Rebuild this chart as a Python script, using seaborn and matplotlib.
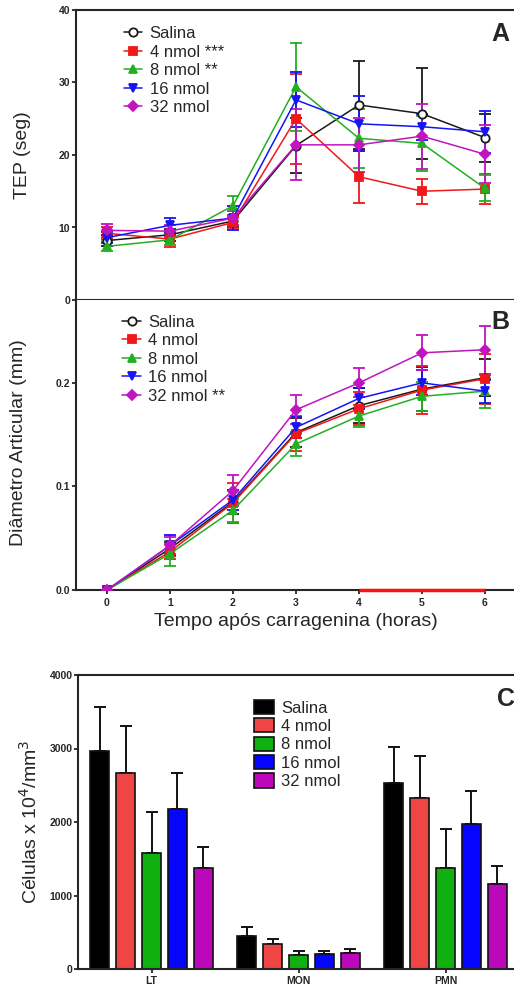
import numpy as np
import pandas as pd
import matplotlib
matplotlib.use("Agg")
import matplotlib.pyplot as plt
import seaborn as sns

# Data
horas = [0, 1, 2, 3, 4, 5, 6]
grupos = ["Salina", "4 nmol", "8 nmol", "16 nmol", "32 nmol"]

# Panel A - TEP (seg), mean and SEM
tep_media = {
    "Salina":  [8.2, 9.0, 10.9, 21.3, 26.9, 25.7, 22.4],
    "4 nmol":  [9.2, 8.4, 10.7, 25.0, 17.0, 15.0, 15.3],
    "8 nmol":  [7.4, 8.3, 13.0, 29.4, 22.3, 21.6, 15.4],
    "16 nmol": [8.6, 10.3, 11.3, 27.6, 24.3, 23.9, 23.2],
    "32 nmol": [9.6, 9.5, 11.3, 21.4, 21.4, 22.6, 20.1],
}
tep_epm = {
    "Salina":  [0.8, 0.8, 0.8, 3.8, 6.1, 6.3, 3.3],
    "4 nmol":  [0.8, 1.1, 0.8, 6.2, 3.6, 1.7, 2.1],
    "8 nmol":  [0.7, 0.7, 1.3, 6.1, 4.1, 3.8, 1.8],
    "16 nmol": [0.8, 1.0, 1.6, 3.8, 3.8, 1.8, 2.9],
    "32 nmol": [0.9, 0.8, 1.0, 4.9, 3.7, 4.5, 4.0],
}
labels_a = ["Salina", "4 nmol ***", "8 nmol **", "16 nmol", "32 nmol"]

# Panel B - Diametro articular (mm), mean and SEM
diam_media = {
    "Salina":  [0, 0.040, 0.085, 0.152, 0.178, 0.194, 0.205],
    "4 nmol":  [0, 0.037, 0.084, 0.151, 0.175, 0.193, 0.204],
    "8 nmol":  [0, 0.035, 0.077, 0.141, 0.168, 0.187, 0.192],
    "16 nmol": [0, 0.043, 0.087, 0.157, 0.185, 0.200, 0.192],
    "32 nmol": [0, 0.043, 0.096, 0.174, 0.200, 0.229, 0.232],
}
diam_epm = {
    "Salina":  [0, 0.006, 0.012, 0.014, 0.017, 0.021, 0.018],
    "4 nmol":  [0, 0.007, 0.019, 0.017, 0.016, 0.023, 0.024],
    "8 nmol":  [0, 0.012, 0.011, 0.012, 0.011, 0.014, 0.016],
    "16 nmol": [0, 0.010, 0.010, 0.010, 0.010, 0.012, 0.011],
    "32 nmol": [0, 0.008, 0.015, 0.014, 0.014, 0.017, 0.023],
}
labels_b = ["Salina", "4 nmol", "8 nmol", "16 nmol", "32 nmol **"]
faixa_sig_b = [4, 6]

# Panel C - cell counts
celulas = ["LT", "MON", "PMN"]
cel_media = {
    "Salina":  [2970, 454, 2535],
    "4 nmol":  [2662, 340, 2331],
    "8 nmol":  [1574, 195, 1379],
    "16 nmol": [2177, 204, 1973],
    "32 nmol": [1370, 213, 1152],
}
cel_epm = {
    "Salina":  [600, 122, 481],
    "4 nmol":  [644, 68, 567],
    "8 nmol":  [567, 54, 521],
    "16 nmol": [485, 41, 449],
    "32 nmol": [285, 55, 254],
}

cores_linha = {"Salina": "#1a1a1a", "4 nmol": "#f01818", "8 nmol": "#22b022",
               "16 nmol": "#1414f5", "32 nmol": "#c014c0"}
cores_barra = {"Salina": "#000000", "4 nmol": "#f04545", "8 nmol": "#10b010",
               "16 nmol": "#0505ff", "32 nmol": "#bb08bb"}
marcadores = {"Salina": "o", "4 nmol": "s", "8 nmol": "^", "16 nmol": "v", "32 nmol": "D"}
tam_marc = {"Salina": 6, "4 nmol": 5.5, "8 nmol": 6, "16 nmol": 6, "32 nmol": 5}

sns.set_style("ticks")
plt.rcParams["font.family"] = ["Liberation Sans", "DejaVu Sans"]
plt.rcParams["axes.linewidth"] = 1.5

fig = plt.figure(figsize=(5.14, 9.88), dpi=100)
W, H = 514, 988
ax_a = fig.add_axes([75.5 / W, 1 - 300 / H, 441 / W, 290 / H])
ax_b = fig.add_axes([75.5 / W, 1 - 590 / H, 441 / W, 290 / H])
ax_c = fig.add_axes([78 / W, 1 - 969 / H, 441 / W, 294 / H])


def painel_linhas(ax, medias, epms, rotulos, ancora):
    for g, rot in zip(grupos, rotulos):
        face = "white" if g == "Salina" else cores_linha[g]
        sns.lineplot(x=horas, y=medias[g], color=cores_linha[g], marker=marcadores[g],
                     markersize=tam_marc[g], markerfacecolor=face,
                     markeredgecolor=cores_linha[g], markeredgewidth=1.3,
                     linewidth=1.1, label=rot, ax=ax, zorder=3)
        ax.errorbar(horas, medias[g], yerr=epms[g], fmt="none", ecolor=cores_linha[g],
                    elinewidth=1.3, capsize=4, capthick=1.3, zorder=2)
    ax.set_xlim(-0.5, 6.5)
    ax.legend(loc="upper left", bbox_to_anchor=ancora, frameon=False,
              fontsize=12, handlelength=1.1, handletextpad=0.45, labelspacing=0.21,
              borderaxespad=0.3)
    for s in ["top", "left", "bottom"]:
        ax.spines[s].set_visible(True)
    ax.tick_params(axis="y", labelsize=7.5, length=3, width=1.3, pad=1)


# Panel A
painel_linhas(ax_a, tep_media, tep_epm, labels_a, (0.083, 0.985))
ax_a.set_ylim(0, 40)
ax_a.set_yticks([0, 10, 20, 30, 40])
ax_a.set_yticklabels(["0", "10", "20", "30", "40"], fontweight="bold")
ax_a.tick_params(axis="x", bottom=False, labelbottom=False)
ax_a.set_xlabel("")
ax_a.set_ylabel("TEP (seg)", fontsize=14)
ax_a.yaxis.set_label_coords(-0.102, 0.5)
ax_a.text(0.944, 0.917, "A", transform=ax_a.transAxes, fontsize=18,
          fontweight="bold", va="center", ha="left")

# Panel B
painel_linhas(ax_b, diam_media, diam_epm, labels_b, (0.08, 0.99))
ax_b.set_ylim(0, 0.28)
ax_b.set_yticks([0.0, 0.1, 0.2])
ax_b.set_yticklabels(["0.0", "0.1", "0.2"], fontweight="bold")
ax_b.spines["top"].set_visible(False)
ax_b.set_xticks(horas)
ax_b.set_xticklabels([str(h) for h in horas], fontweight="bold")
ax_b.tick_params(axis="x", labelsize=7.5, length=3, width=1.3, pad=3)
ax_b.set_xlabel("Tempo após carragenina (horas)", fontsize=14, labelpad=3)
ax_b.set_ylabel("Diâmetro Articular (mm)", fontsize=14)
ax_b.yaxis.set_label_coords(-0.11, 0.507)
ax_b.hlines(0, faixa_sig_b[0], faixa_sig_b[1], color="#ff1010", linewidth=2.5,
            zorder=4, clip_on=False)
ax_b.text(0.944, 0.924, "B", transform=ax_b.transAxes, fontsize=18,
          fontweight="bold", va="center", ha="left")

# Panel C
df_c = pd.DataFrame([
    {"celula": c, "grupo": g, "valor": cel_media[g][i]}
    for g in grupos for i, c in enumerate(celulas)
])
sns.barplot(data=df_c, x="celula", y="valor", hue="grupo", order=celulas,
            hue_order=grupos, palette=cores_barra, saturation=1, width=0.88, gap=0.27,
            edgecolor="#111111", linewidth=1.2, errorbar=None, ax=ax_c, zorder=2)
for g, cont in zip(grupos, ax_c.containers):
    xs = [b.get_x() + b.get_width() / 2 for b in cont]
    ys = [b.get_height() for b in cont]
    ax_c.errorbar(xs, ys, yerr=[np.zeros(len(ys)), cel_epm[g]], fmt="none",
                  ecolor="#111111", elinewidth=1.4, capsize=4, capthick=1.4, zorder=1)
ax_c.set_xlim(-0.5, 2.5)
ax_c.set_ylim(0, 4000)
ax_c.set_yticks([0, 1000, 2000, 3000, 4000])
ax_c.set_yticklabels(["0", "1000", "2000", "3000", "4000"], fontweight="bold")
ax_c.set_xticks(range(len(celulas)))
ax_c.set_xticklabels(celulas, fontweight="bold")
ax_c.tick_params(axis="both", labelsize=7.5, length=3, width=1.3, pad=2)
ax_c.tick_params(axis="y", pad=1)
for s in ["top", "left", "bottom"]:
    ax_c.spines[s].set_visible(True)
ax_c.set_xlabel("")
ax_c.set_ylabel("Células x 10$^4$/mm$^3$", fontsize=14)
ax_c.yaxis.set_label_coords(-0.085, 0.5)
ax_c.legend(loc="upper left", bbox_to_anchor=(0.376, 0.95), frameon=False,
            fontsize=12, handlelength=1.2, handleheight=0.95, handletextpad=0.45,
            labelspacing=0.15, borderaxespad=0.2)
ax_c.text(0.95, 0.918, "C", transform=ax_c.transAxes, fontsize=18,
          fontweight="bold", va="center", ha="left")

fig.savefig("out.png", dpi=100)
